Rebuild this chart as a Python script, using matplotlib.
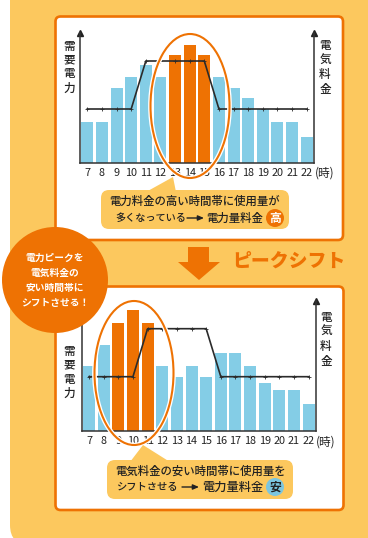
import matplotlib
matplotlib.use("Agg")
import matplotlib.pyplot as plt
from matplotlib.patches import FancyBboxPatch, Ellipse, Circle, Polygon

plt.rcParams['font.family'] = ['Noto Sans CJK JP', 'DejaVu Sans']

hours = list(range(7, 23))
demand_before = [41, 41, 75, 86, 98, 86, 108, 118, 108, 86, 75, 65, 54, 41, 41, 26]
price_before = [54, 54, 54, 54, 102, 102, 102, 102, 102, 54, 54, 54, 54, 54, 54, 54]
peak_before = [13, 14, 15]
demand_after = [65, 86, 108, 121, 108, 65, 54, 65, 54, 78, 78, 65, 48, 41, 41, 27]
price_after = [54, 54, 54, 54, 102, 102, 102, 102, 102, 54, 54, 54, 54, 54, 54, 54]
peak_after = [9, 10, 11]

ORANGE = '#EE7203'
YELLOW = '#FCC85E'
BLUE = '#84CDE6'
DARK = '#2B2B2B'
W, H = 368, 538
fig = plt.figure(figsize=(W / 100, H / 100), dpi=100, facecolor='white')


def px_axes(l, t, r, b, z):
    return fig.add_axes([l / W, 1 - b / H, (r - l) / W, (b - t) / H], zorder=z)


def layer(z):
    a = fig.add_axes([0, 0, 1, 1], zorder=z)
    a.set_xlim(0, W)
    a.set_ylim(H, 0)
    a.axis('off')
    a.patch.set_alpha(0)
    return a


def rbox(a, l, t, r, b, rad, **kw):
    a.add_patch(FancyBboxPatch((l, t), r - l, b - t,
                               boxstyle=f'round,pad=0,rounding_size={rad}', **kw))


back = layer(0)
rbox(back, 10, -40, 420, 545, 20, fc=YELLOW, ec='none')
rbox(back, 55.5, 16.5, 343, 240, 5, fc='white', ec=ORANGE, lw=1.9)
rbox(back, 55.5, 286.5, 343.5, 510, 5, fc='white', ec=ORANGE, lw=1.9)


def chart(l, t, r, b, demand, price, peak):
    ax = px_axes(l, t, r, b, 1)
    ax.patch.set_alpha(0)
    colors = [ORANGE if h in peak else BLUE for h in hours]
    ax.bar(hours, demand, width=0.82, color=colors)
    ax.plot(hours, price, color=DARK, lw=1.2, marker='+', ms=2.5, mew=0.6, zorder=3)
    ax.set_xlim(6.5, 22.5)
    ax.set_ylim(0, 130)
    ax.set_yticks([])
    ax.set_xticks(hours)
    ax.set_xticklabels([str(h) for h in hours], fontsize=7.8, color='#222222')
    ax.tick_params(axis='x', length=0, pad=3.5)
    ax.spines['top'].set_visible(False)
    for s in ['left', 'right', 'bottom']:
        ax.spines[s].set_color('#333333')
        ax.spines[s].set_linewidth(1.1)
    for x in (0, 1):
        ax.plot(x, 1, '^', color='#222222', ms=4, transform=ax.transAxes, clip_on=False)
    return ax


chart(80, 33, 314, 163, demand_before, price_before, peak_before)
chart(81.7, 300.7, 316, 430.7, demand_after, price_after, peak_after)

top = layer(2)


def vtext(x, ys, s):
    for y, c in zip(ys, s):
        top.text(x, y, c, ha='center', va='center', fontsize=8.4, color='#222222', weight='medium')


vtext(69, [46, 60, 74, 88], '需要電力')
vtext(325, [46, 60, 74, 89], '電気料金')
vtext(69, [351, 365, 379, 393], '需要電力')
vtext(326, [317, 331, 346, 361], '電気料金')
top.text(325, 173, '(時)', ha='center', va='center', fontsize=8.4, color='#222222')
top.text(326, 442, '(時)', ha='center', va='center', fontsize=8.4, color='#222222')

for cx, cy in [(190, 106), (134, 373)]:
    top.add_patch(Ellipse((cx, cy), 79, 144, fc='none', ec='white', lw=3.4))
    top.add_patch(Ellipse((cx, cy), 79, 144, fc='none', ec=ORANGE, lw=1.5))

# speech bubbles
top.add_patch(Polygon([(173, 177), (146, 192), (176, 192)], fc=YELLOW, ec='none'))
rbox(top, 101, 190, 289, 229, 8, fc=YELLOW, ec='none')
top.add_patch(Polygon([(143, 445), (130, 462), (170, 462)], fc=YELLOW, ec='none'))
rbox(top, 107, 460, 293, 499, 8, fc=YELLOW, ec='none')

tk = dict(va='center', color='#222222', weight='medium')
top.text(195, 201, '電力料金の高い時間帯に使用量が', ha='center', fontsize=8.2, **tk)
top.text(115, 218, '多くなっている', ha='left', fontsize=7.3, **tk)
top.text(206, 218, '電力量料金', ha='left', fontsize=8.2, **tk)
top.text(201, 471, '電気料金の安い時間帯に使用量を', ha='center', fontsize=8.2, **tk)
top.text(116, 487, 'シフトさせる', ha='left', fontsize=7.4, **tk)
top.text(202, 487, '電力量料金', ha='left', fontsize=8.8, **tk)
for x0, x1, y in [(187, 204, 218), (182, 199, 487)]:
    top.annotate('', xy=(x1, y), xytext=(x0, y),
                 arrowprops=dict(arrowstyle='-|>,head_width=0.15,head_length=0.35', color='#222222',
                                 lw=1, shrinkA=0, shrinkB=0))
top.add_patch(Circle((275, 218), 9, fc=ORANGE, ec='none'))
top.text(275, 218, '高', ha='center', va='center', fontsize=8.5, color='white', weight='bold')
top.add_patch(Circle((275, 487), 9, fc='#7CC6E0', ec='none'))
top.text(275, 487, '安', ha='center', va='center', fontsize=8.5, color='#222222', weight='bold')

# shift arrow and title
top.add_patch(Polygon([(188, 247), (209, 247), (209, 262), (220, 262), (199, 280),
                       (178, 262), (188, 262)], fc=ORANGE, ec='none'))
top.text(288.5, 261, 'ピークシフト', ha='center', va='center', fontsize=13.6,
         color=ORANGE, weight='black')

# call-out circle
top.add_patch(Circle((55, 280), 53, fc=ORANGE, ec='none'))
for y, s in zip([258, 273, 288, 303], ['電力ピークを', '電気料金の', '安い時間帯に', 'シフトさせる！']):
    top.text(55, y, s, ha='center', va='center', fontsize=7.0, color='white', weight='bold')

fig.savefig('out.png', dpi=100)
